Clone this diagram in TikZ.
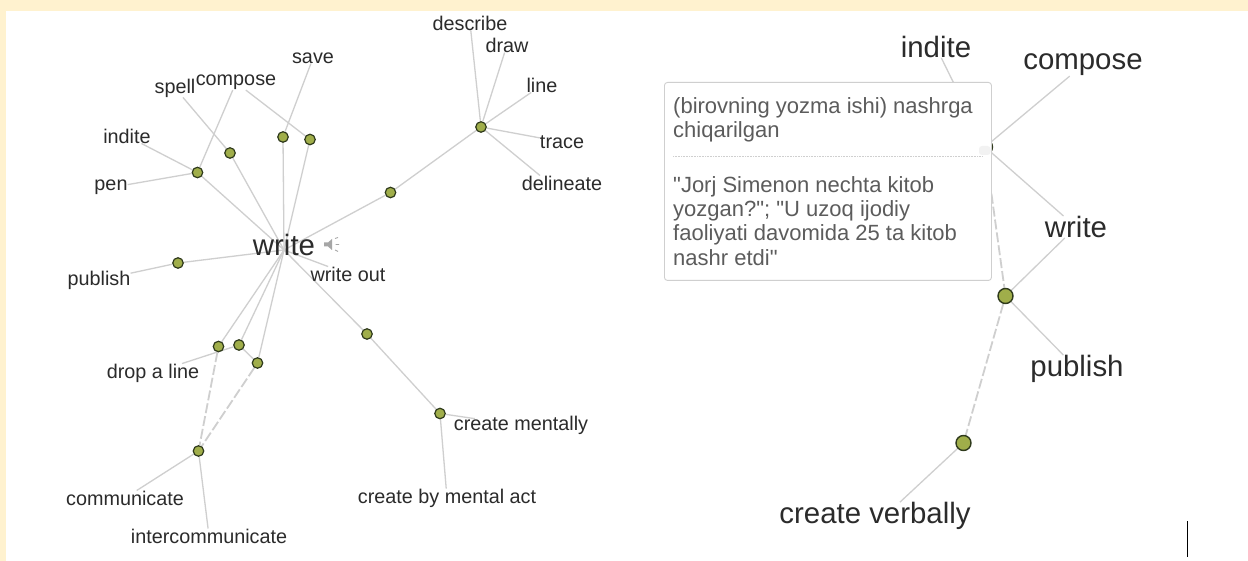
\documentclass[tikz,border=0pt]{standalone}
\usepackage{fontspec}
\setmainfont{Liberation Sans}[Ligatures=TeXOff]
\usetikzlibrary{backgrounds,calc}
\definecolor{cream}{HTML}{FFF2CF}
\definecolor{linkc}{HTML}{CFCFCF}
\definecolor{dotc}{HTML}{A0AE4A}
\definecolor{dotb}{HTML}{2F3A1C}
\definecolor{labc}{HTML}{2B2B2B}
\definecolor{cardt}{HTML}{5C5C5C}
\tikzset{
  x=1pt,y=-1pt,
  lab/.style={font=\fontsize{19.8}{21}\selectfont,text=labc,inner sep=0pt,anchor=center},
  big/.style={font=\fontsize{29.4}{32}\selectfont,text=labc,inner sep=0pt,anchor=center},
  dot/.style={circle,draw=dotb,fill=dotc,line width=1.2pt,minimum size=10.5pt,inner sep=0pt},
  bdot/.style={circle,draw=dotb,fill=dotc,line width=1.4pt,minimum size=15pt,inner sep=0pt},
  link/.style={draw=linkc,line width=1.3pt},
  dlink/.style={draw=linkc,line width=1.8pt,dash pattern=on 10pt off 3pt},
  card/.style={draw=linkc,fill=white,rounded corners=3pt,line width=.9pt},
  cardtxt/.style={font=\fontsize{22}{24.4}\selectfont,text=cardt,inner sep=0pt,anchor=north west,align=left},
}
\begin{document}
\begin{tikzpicture}
\useasboundingbox (0,0) rectangle (1248,561);

% ---------- left graph: labels
\node[big] (write) at (284,245) {write};
\coordinate (hub) at (284,250);
\node[lab] (save) at (313,58) {save};
\node[lab] (spell) at (175,88) {spell};
\node[lab] (compose) at (236,82.5) {compose};
\node[lab] (indite) at (127,136) {indite};
\node[lab] (pen) at (111,187.5) {pen};
\node[lab] (publish) at (99,280) {publish};
\node[lab] (writeout) at (348,274) {write out};
\node[lab] (dropline) at (153,373) {drop a line};
\node[lab] (communicate) at (125,498) {communicate};
\node[lab] (intercomm) at (209,536) {intercommunicate};
\node[lab] (mentally) at (521,425.5) {create mentally};
\node[lab] (mentalact) at (447,498) {create by mental act};
\node[lab] (describe) at (470,23) {describe};
\node[lab] (drawlab) at (507,45) {draw};
\node[lab] (linelab) at (542,85) {line};
\node[lab] (tracelab) at (562,142) {trace};
\node[lab] (delineate) at (562,183) {delineate};

% ---------- left graph: dots
\node[dot] (d1) at (197.5,172.5) {};
\node[dot] (d2) at (230,153) {};
\node[dot] (d3) at (283,137) {};
\node[dot] (d4) at (310,139.5) {};
\node[dot] (d5) at (390.5,192.5) {};
\node[dot] (d6) at (481,127) {};
\node[dot] (d7) at (178,263) {};
\node[dot] (d8) at (218.5,346.5) {};
\node[dot] (d9) at (239,345) {};
\node[dot] (d10) at (257.5,363) {};
\node[dot] (d11) at (198.5,451) {};
\node[dot] (d12) at (367,334) {};
\node[dot] (d13) at (440,413.5) {};

% speaker icon
\fill[black!35] (324,242.5) -- (328,242.5) -- (332,239) -- (332,250) -- (328,246.5) -- (324,246.5) -- cycle;
\draw[black!35,line width=.9pt] (335,238.5) -- (338,237.5) (335.5,244.5) -- (339,244.5) (335,250) -- (338,251.5);

% ---------- right graph
\node[big] (Rindite) at (936,47) {indite};
\node[big] (Rcompose) at (1083,65) {compose};
\node[big] (Rwrite) at (1076,227) {write};
\node[big] (Rpublish) at (1077,369) {publish};
\node[big] (Rcreate) at (875,516) {create verbally};
\node[bdot] (h1) at (985,147) {};
\node[bdot] (h2) at (1005.5,296) {};
\node[bdot] (h3) at (963.5,443) {};

% ---------- definition card (hides the dot h1)
\node[card,inner sep=0pt,minimum width=327pt,minimum height=198pt,anchor=north west] (card) at (664,82) {};
\fill[black!5,rounded corners=3pt] (979,146) rectangle (990.5,155);
\node[cardtxt] (gloss) at (673,97) {(birovning yozma ishi) nashrga\\chiqarilgan};
\coordinate (ruleA) at (673,156.5);
\coordinate (ruleB) at (983,156.5);
\draw[linkc,dash pattern=on 1pt off .6pt,line width=.8pt] (ruleA) -- (ruleB);
\node[cardtxt] (example) at (673,176) {"Jorj Simenon nechta kitob\\yozgan?"; "U uzoq ijodiy\\faoliyati davomida 25 ta kitob\\nashr etdi"};

% caret
\coordinate (caretA) at (1187.5,521);
\coordinate (caretB) at (1187.5,557);
\draw[black,line width=1.1pt] (caretA) -- (caretB);

% ---------- everything behind: ground and connectors
\begin{pgfonlayer}{background}
\fill[cream] (0,0) rectangle (1248,561);
\fill[white] (6,11) rectangle (1248,561);
\draw[link] (hub) -- (d1);
\draw[link] (hub) -- (d2);
\draw[link] (hub) -- (d3);
\draw[link] (hub) -- (d4);
\draw[link] (hub) -- (d5);
\draw[link] (hub) -- (d7);
\draw[link] (hub) -- (d8);
\draw[link] (hub) -- (d9);
\draw[link] (hub) -- (d10);
\draw[link] (hub) -- (d12);
\draw[link] (hub) -- (writeout);
\draw[link] (d1) -- (indite);
\draw[link] (d1) -- (pen);
\draw[link] (d1) -- (compose);
\draw[link] (d2) -- (spell);
\draw[link] (d3) -- (save);
\draw[link] (d4) -- (compose);
\draw[link] (d5) -- (d6);
\draw[link] (d6) -- (describe);
\draw[link] (d6) -- (drawlab);
\draw[link] (d6) -- (linelab);
\draw[link] (d6) -- (tracelab);
\draw[link] (d6) -- ($(delineate.north)+(-22,0)$);
\draw[link] (d7) -- (publish);
\draw[link] (d9) -- (dropline);
\draw[link] (d9) -- (d10);
\draw[dlink] (d8) -- (d11);
\draw[dlink] (d10) -- (d11);
\draw[link] (d11) -- (communicate);
\draw[link] (d11) -- (intercomm);
\draw[link] (d12) -- (d13);
\draw[link] (d13) -- ($(d13)!0.43!(mentally)$);
\draw[link] (d13) -- (mentalact);
\draw[link] (h1) -- (Rindite);
\draw[link] (h1) -- (Rcompose);
\draw[link] (h1) -- (Rwrite);
\draw[link] (h2) -- (Rwrite);
\draw[link] (h2) -- (Rpublish);
\draw[link] (h3) -- ($(Rcreate.north)+(25,0)$);
\draw[dlink] (h1) -- (h2);
\draw[dlink] (h2) -- (h3);
\end{pgfonlayer}
\end{tikzpicture}
\end{document}
